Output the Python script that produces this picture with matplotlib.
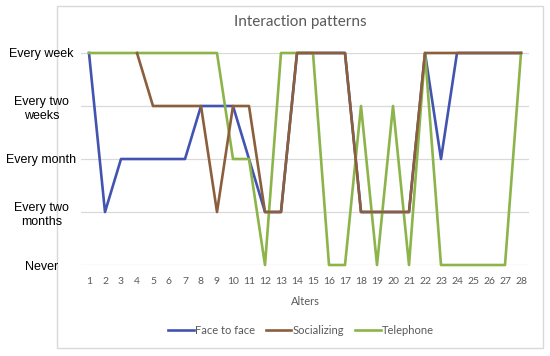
import matplotlib
matplotlib.use("Agg")
import matplotlib.pyplot as plt
from matplotlib.patches import Rectangle
import numpy as np

alters = list(range(1, 29))
level_labels = ["Never", "Every two\nmonths", "Every month", "Every two\nweeks", "Every week"]
face_to_face = [4, 1, 2, 2, 2, 2, 2, 3, 3, 3, 2, 1, 1, 4, 4, 4, 4, 1, 1, 1, 1, 4, 2, 4, 4, 4, 4, 4]
socializing = [None, None, None, 4, 3, 3, 3, 3, 1, 3, 3, 1, 1, 4, 4, 4, 4, 1, 1, 1, 1, 4, 4, 4, 4, 4, 4, 4]
telephone = [4, 4, 4, 4, 4, 4, 4, 4, 4, 2, 2, 0, 4, 4, 4, 0, 0, 3, 0, 3, 0, 4, 0, 0, 0, 0, 0, 4]

W, H = 550, 356
fig = plt.figure(figsize=(W / 100, H / 100), dpi=100)
fig.patch.set_facecolor("white")

# chart frame
frame = Rectangle((57 / W, 1 - 348 / H), (543 - 57) / W, (348 - 6) / H,
                  transform=fig.transFigure, fill=False,
                  edgecolor="#D9D9D9", linewidth=1.0, zorder=-5)
fig.patches.append(frame)

ax = fig.add_axes([81 / W, 1 - 265 / H, (529 - 81) / W, (265 - 53) / H])
ax.set_zorder(1)
ax.patch.set_alpha(0)
ax.set_xlim(0.5, 28.5)
ax.set_ylim(0, 4)

for lvl in range(5):
    ax.axhline(lvl, color="#D9D9D9", linewidth=0.9, zorder=0)

soc = np.array([np.nan if v is None else v for v in socializing], dtype=float)

lw = 1.9
ax.plot(alters, face_to_face, color="#4254B0", linewidth=lw, label="Face to face", clip_on=False, zorder=3)
l_tel, = ax.plot(alters, telephone, color="#8CB44A", linewidth=lw, label="Telephone", clip_on=False, zorder=4)
l_soc, = ax.plot(alters, soc, color="#8B5E3C", linewidth=lw, label="Socializing", clip_on=False, zorder=5)

for s in ax.spines.values():
    s.set_visible(False)

ax.set_xticks(alters)
ax.set_xticklabels([str(a) for a in alters], fontsize=7.5, color="#595959", family="Lato")
ax.tick_params(axis="x", length=0, pad=9)

ax.set_yticks(range(5))
ax.set_yticklabels(level_labels, fontsize=9, color="#000000", family="Liberation Sans",
                   ha="center", multialignment="center", linespacing=1.25)
ax.tick_params(axis="y", length=0, pad=28.5)

ax.set_xlabel("Alters", fontsize=8, color="#595959", family="Lato", labelpad=7)

fig.text(300 / W, 1 - 22 / H, "Interaction patterns", ha="center", va="center",
         fontsize=11, color="#595959", family="Lato")

handles, labels = ax.get_legend_handles_labels()
order = [labels.index("Face to face"), labels.index("Socializing"), labels.index("Telephone")]
leg = fig.legend([handles[i] for i in order], [labels[i] for i in order],
                 loc="center", bbox_to_anchor=(301 / W, 1 - 330 / H), ncol=3,
                 frameon=False, handlelength=2.3, handletextpad=0.1,
                 columnspacing=1.0, prop={"family": "Lato", "size": 8})
for t in leg.get_texts():
    t.set_color("#595959")

fig.savefig("out.png", dpi=100, facecolor="white")
